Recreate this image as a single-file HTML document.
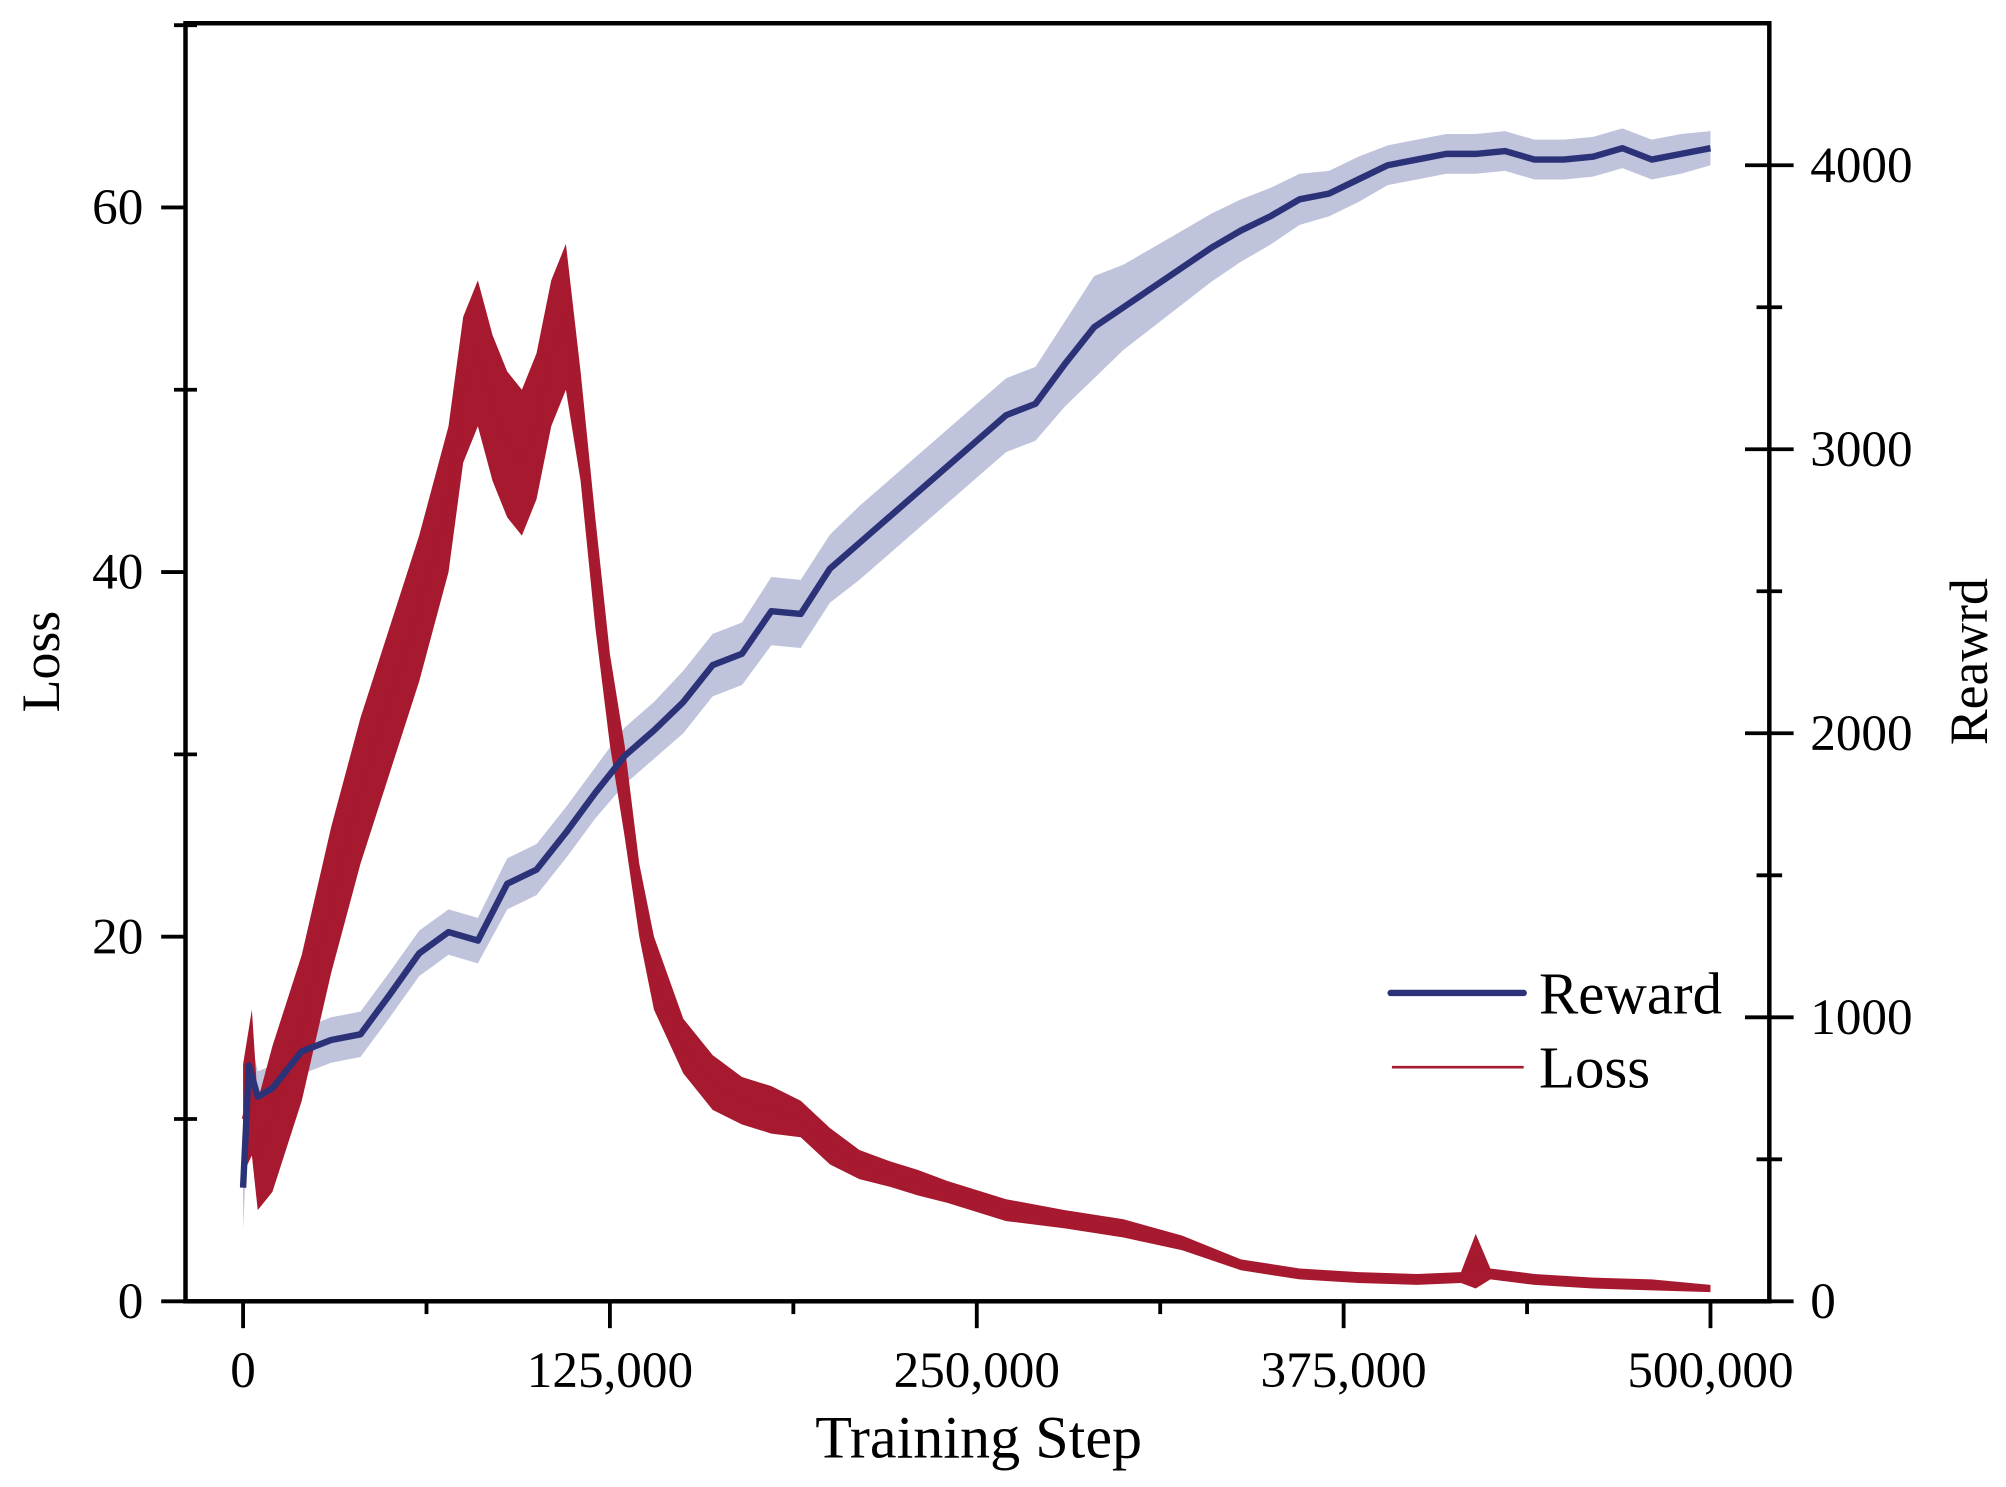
<!DOCTYPE html>
<html><head><meta charset="utf-8"><style>
html,body{margin:0;padding:0;background:#fff;}
svg{display:block;font-family:"Liberation Serif",serif;}
</style></head><body>
<svg id="chart" width="2006" height="1487" viewBox="0 0 1568 1162" xmlns="http://www.w3.org/2000/svg">
<g id="bands"></g>
<g id="lossg"></g>
<g id="rewardg"></g>
<g id="axes" stroke="#000" stroke-width="3.5" fill="none">
<rect x="145" y="18" width="1238" height="999"/>
</g>
<g id="ticks"></g>
<text x="765" y="1139" font-size="47" text-anchor="middle">Training Step</text>
<text transform="translate(46,517) rotate(-90)" font-size="42" text-anchor="middle">Loss</text>
<text transform="translate(1553,517) rotate(-90)" font-size="42" text-anchor="middle">Reawrd</text>
<g>
<line x1="1087" y1="776" x2="1191" y2="776" stroke="#2b3278" stroke-width="5" stroke-linecap="round"/>
<text x="1203" y="792" font-size="46">Reward</text>
<line x1="1088" y1="834" x2="1191" y2="834" stroke="#a6192e" stroke-width="2"/>
<text x="1203" y="850" font-size="46">Loss</text>
</g>
</svg>
<script>
const xTickValues=[0,125000,250000,375000,500000];
const xTickLabels=["0","125,000","250,000","375,000","500,000"];
const lossTickValues=[0,20,40,60];
const rewardTickValues=[0,1000,2000,3000,4000];
const rewardSteps=[0,2000,5000,10000,20000,30000,40000,50000,60000,70000,80000,90000,100000,110000,120000,130000,140000,150000,160000,170000,180000,190000,200000,210000,220000,230000,240000,250000,260000,270000,280000,290000,300000,310000,320000,330000,340000,350000,360000,370000,380000,390000,400000,410000,420000,430000,440000,450000,460000,470000,480000,490000,500000];
const rewardMean=[400,830,720,750,880,920,940,1080,1225,1300,1270,1470,1520,1650,1790,1920,2010,2110,2240,2280,2430,2420,2580,2670,2760,2850,2940,3030,3120,3160,3300,3430,3500,3570,3640,3710,3770,3820,3880,3900,3950,4000,4020,4040,4040,4050,4020,4020,4030,4060,4020,4040,4060];
const rewardSpread=[150,120,90,80,80,80,80,80,80,80,80,90,90,90,90,100,100,110,110,110,120,120,120,130,130,130,130,130,130,130,150,180,150,140,130,120,110,100,90,80,80,70,70,70,70,70,70,70,70,70,70,70,60];
const lossSteps=[0,3000,5000,10000,20000,30000,40000,50000,60000,70000,75000,80000,85000,90000,95000,100000,105000,110000,115000,120000,125000,130000,135000,140000,150000,160000,170000,180000,190000,200000,210000,220000,230000,240000,250000,260000,280000,300000,320000,340000,360000,380000,400000,415000,420000,425000,440000,460000,480000,500000];
const lossMean=[10,12,8,10,15,22,28,33,38,44,50,52,49,47,46,48,52,54,48,40,33,28,22,18,14,12,11,10.5,10,8.5,7.5,7,6.5,6,5.5,5,4.5,4,3.2,2,1.5,1.3,1.2,1.3,2.2,1.5,1.2,1.0,0.9,0.7];
const lossNoise=[3,4,3,4,4,4,4,4,4,4,4,4,4,4,4,4,4,4,3,3,2.5,2.5,2,2,1.5,1.5,1.3,1.3,1,1,0.8,0.7,0.7,0.6,0.6,0.6,0.5,0.5,0.4,0.3,0.3,0.3,0.3,0.3,1.5,0.3,0.3,0.3,0.3,0.2];
const NS="http://www.w3.org/2000/svg";
const X=v=>190+(v/500000)*(1337-190);
const YL=v=>1017-v*(1017-162)/60;
const YR=v=>1017-v*(1017-129)/4000;
function mk(tag,attrs,parent){const e=document.createElementNS(NS,tag);for(const k in attrs)e.setAttribute(k,attrs[k]);parent.appendChild(e);return e;}
const bands=document.getElementById('bands'),lossg=document.getElementById('lossg'),rewardg=document.getElementById('rewardg'),ticks=document.getElementById('ticks');
let up=rewardSteps.map((s,i)=>X(s)+','+YR(rewardMean[i]+rewardSpread[i]));
let dn=rewardSteps.map((s,i)=>X(s)+','+YR(rewardMean[i]-rewardSpread[i])).reverse();
const band=mk('polygon',{points:up.concat(dn).join(' '),fill:'#c0c3dc'},bands);


let lu=lossSteps.map((s,i)=>X(s)+','+YL(lossMean[i]+lossNoise[i]));
let ld=lossSteps.map((s,i)=>X(s)+','+YL(Math.max(0,lossMean[i]-lossNoise[i]))).reverse();
const lb=mk('polygon',{points:lu.concat(ld).join(' '),fill:'#a6192e'},lossg);


const ll=mk('polyline',{points:lossSteps.map((s,i)=>X(s)+','+YL(lossMean[i])).join(' '),fill:'none',stroke:'#a6192e','stroke-width':2},lossg);


const rl=mk('polyline',{points:rewardSteps.map((s,i)=>X(s)+','+YR(rewardMean[i])).join(' '),fill:'none',stroke:'#2b3278','stroke-width':5,'stroke-linejoin':'round'},rewardg);


xTickValues.forEach((v,i)=>{
 const t=mk('line',{x1:X(v),y1:1017,x2:X(v),y2:1038,stroke:'#000','stroke-width':3},ticks);
 
 
 const tx=mk('text',{x:X(v),y:1084,'font-size':40,'text-anchor':'middle'},ticks);
 tx.textContent=xTickLabels[i];
 
 
 if(i<xTickValues.length-1){
  const m=mk('line',{x1:X(v+62500),y1:1017,x2:X(v+62500),y2:1027,stroke:'#000','stroke-width':3},ticks);
  
  
 }
});
lossTickValues.forEach(v=>{
 const t=mk('line',{x1:126,y1:YL(v),x2:145,y2:YL(v),stroke:'#000','stroke-width':3},ticks);
 
 
 const tx=mk('text',{x:112,y:YL(v)+13,'font-size':40,'text-anchor':'end'},ticks);
 tx.textContent=String(v);
 
 
 const m=mk('line',{x1:136,y1:YL(v+10),x2:154,y2:YL(v+10),stroke:'#000','stroke-width':3},ticks);
 
 
});
rewardTickValues.forEach(v=>{
 const t=mk('line',{x1:1364,y1:YR(v),x2:1402,y2:YR(v),stroke:'#000','stroke-width':3},ticks);
 
 
 const tx=mk('text',{x:1415,y:YR(v)+13,'font-size':40},ticks);
 tx.textContent=String(v);
 
 
 if(v<4000){
  const m=mk('line',{x1:1373,y1:YR(v+500),x2:1393,y2:YR(v+500),stroke:'#000','stroke-width':3},ticks);
  
  
 }
});
</script>
</body></html>
